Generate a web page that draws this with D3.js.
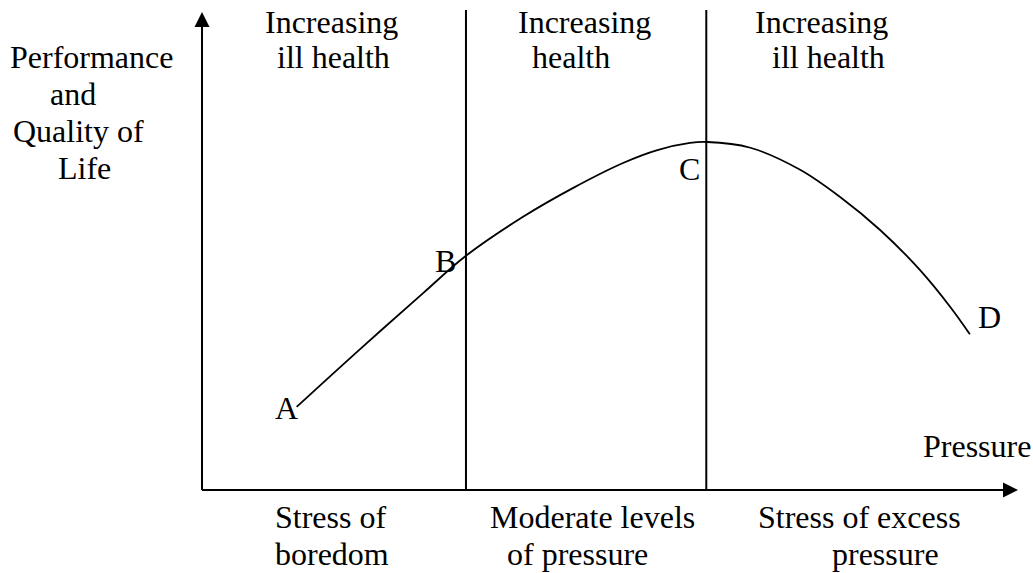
<!DOCTYPE html>
<html>
<head>
<meta charset="utf-8">
<script src="https://cdn.jsdelivr.net/npm/d3@7"></script>
<style>
  html, body { margin: 0; padding: 0; background: #fff; }
  svg { display: block; }
  text { font-family: "Liberation Serif", "Times New Roman", serif; font-size: 32px; fill: #000; }
</style>
</head>
<body>
<svg id="chart" width="1033" height="573"></svg>
<script>
// ---- data ----
const curvePressure = [11.6, 19.0, 27.1, 32.35, 39.3, 45.5, 51.6, 55.8, 59.8, 61.9, 67.2, 73.3, 78.2, 83.1, 88.0, 91.7, 94.1];
const curvePerformance = [17.4, 28.9, 41.2, 49.0, 57.1, 63.2, 68.4, 71.1, 72.6, 72.8, 71.6, 67.0, 61.3, 54.4, 46.0, 38.3, 32.6];
const dividers = [32.35, 61.8];
const pointLabels = ["A", "B", "C", "D"];
const topLabels = [["Increasing", "ill health"], ["Increasing", "health"], ["Increasing", "ill health"]];
const bottomLabels = [["Stress of", "boredom"], ["Moderate levels", "of pressure"], ["Stress of excess", "pressure"]];
const yTitle = ["Performance", "and", "Quality of", "Life"];
const xTitle = "Pressure";

// ---- layout ----
const svg = d3.select("#chart");
const x = d3.scaleLinear().domain([0, 100]).range([202, 1018]);
const y = d3.scaleLinear().domain([0, 100]).range([490, 12]);

const ink = "#000";

// axes
svg.append("line").attr("x1", x(0)).attr("x2", x(98.2)).attr("y1", y(0)).attr("y2", y(0))
  .attr("stroke", ink).attr("stroke-width", 2);
svg.append("line").attr("x1", x(0)).attr("x2", x(0)).attr("y1", y(0)).attr("y2", y(97))
  .attr("stroke", ink).attr("stroke-width", 2);
// arrowheads
svg.append("path")
  .attr("d", `M${x(100)},${y(0)} L${x(100) - 15},${y(0) - 7.5} L${x(100) - 15},${y(0) + 7.5} Z`)
  .attr("fill", ink);
svg.append("path")
  .attr("d", `M${x(0)},${y(100)} L${x(0) - 7.5},${y(100) + 15} L${x(0) + 7.5},${y(100) + 15} Z`)
  .attr("fill", ink);

// dividers
svg.selectAll("line.div").data(dividers).join("line")
  .attr("class", "div")
  .attr("x1", d => x(d)).attr("x2", d => x(d))
  .attr("y1", y(0)).attr("y2", 10)
  .attr("stroke", ink).attr("stroke-width", 2);

// curve
const pts = curvePressure.map((p, i) => [p, curvePerformance[i]]);
const line = d3.line().x(d => x(d[0])).y(d => y(d[1])).curve(d3.curveCatmullRom.alpha(0.5));
svg.append("path").datum(pts).attr("d", line)
  .attr("fill", "none").attr("stroke", ink).attr("stroke-width", 1.8);

// point labels
const ptPos = [[275, 419], [435, 272], [679, 180], [978, 328]];
svg.selectAll("text.pt").data(pointLabels).join("text")
  .attr("class", "pt")
  .attr("x", (d, i) => ptPos[i][0]).attr("y", (d, i) => ptPos[i][1])
  .text(d => d);

// top labels
const topPos = [[[265, 33], [277, 68]], [[518, 33], [532, 68]], [[755, 33], [772, 68]]];
topLabels.forEach((lines, i) => {
  lines.forEach((t, j) => {
    svg.append("text").attr("x", topPos[i][j][0]).attr("y", topPos[i][j][1]).text(t);
  });
});

// bottom labels
const botPos = [[[275, 528], [275, 565]], [[490, 528], [507, 565]], [[758, 528], [832, 565]]];
bottomLabels.forEach((lines, i) => {
  lines.forEach((t, j) => {
    svg.append("text").attr("x", botPos[i][j][0]).attr("y", botPos[i][j][1]).text(t);
  });
});

// y title
const yPos = [[10, 68], [50, 105], [13, 142], [58, 179]];
yTitle.forEach((t, i) => {
  svg.append("text").attr("x", yPos[i][0]).attr("y", yPos[i][1]).text(t);
});

// x title
svg.append("text").attr("x", 923).attr("y", 457).text(xTitle);
</script>
</body>
</html>
